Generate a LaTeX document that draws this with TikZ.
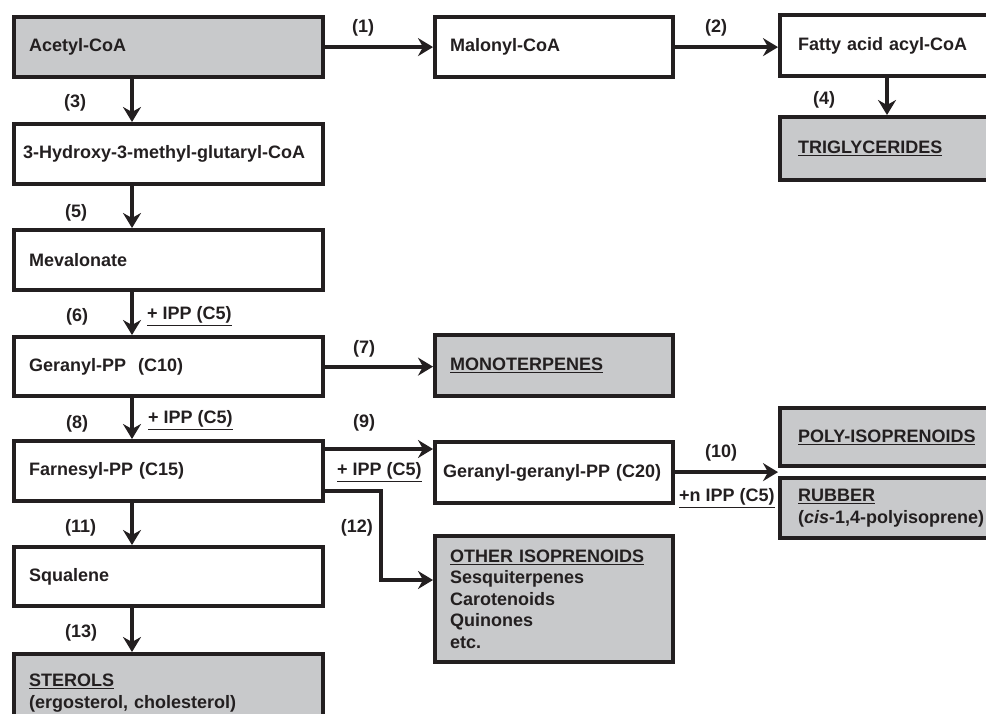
\documentclass[tikz,border=0pt]{standalone}
\usepackage{fontspec}
\setmainfont{Liberation Sans}
\usetikzlibrary{arrows.meta,calc}
\definecolor{ink}{HTML}{231F20}
\definecolor{shade}{HTML}{C8C9CB}

\begin{document}
\begin{tikzpicture}
  [x=1pt, y=-1pt,
  every node/.style={font=\fontsize{18}{21.5}\selectfont\bfseries, text=ink},
  box/.style={draw=ink, line width=4.2pt, anchor=north west, align=left,
    inner xsep=15pt, minimum height=60pt},
  wide/.style={box, text width=279pt},
  mid/.style={box, text width=208pt},
  side/.style={box, inner xsep=18pt, text width=204pt},
  prod/.style={fill=shade},
  flow/.style={draw=ink, line width=4pt,
    -{Stealth[length=15pt,width=18pt,inset=5pt]}},
  num/.style={anchor=west, inner sep=0pt}]
  \useasboundingbox (0,0) rectangle (986,713);

  \node[wide,prod] (acetyl) at (12,15) {Acetyl-CoA};
  \node[wide,inner xsep=9pt,text width=291pt] (hmg) at (12,122)
    {3-Hydroxy-3-methyl-glutaryl-CoA};
  \node[wide] (mev) at (12,228) {Mevalonate};
  \node[wide,minimum height=59pt] (ger) at (12,335) {Geranyl-PP~~(C10)};
  \node[wide] (farn) at (12,439) {Farnesyl-PP (C15)};
  \node[wide,minimum height=59pt] (squal) at (12,545) {Squalene};
  \node[wide,prod,minimum height=78pt] (sterol) at (12,652)
    {\underline{STEROLS}\\(ergosterol, cholesterol)};

  \node[mid] (malonyl) at (433,15) {Malonyl-CoA};
  \node[mid,prod,minimum height=61pt] (mono) at (433,333) {\underline{MONOTERPENES}};
  \node[mid,inner xsep=8pt,text width=222pt,minimum height=61pt] (gg) at (433,440)
    {Geranyl-geranyl-PP (C20)};
  \node[mid,prod,minimum height=126pt] (other) at (433,534)
    {\underline{OTHER ISOPRENOIDS}\\Sesquiterpenes\\Carotenoids\\Quinones\\etc.};

  \node[side,minimum height=61pt] (fatty) at (778,13) {Fatty acid acyl-CoA};
  \node[side,prod,minimum height=63pt] (tri) at (778,115) {\underline{TRIGLYCERIDES}};
  \node[side,prod,minimum height=58pt] (poly) at (778,406) {\underline{POLY-ISOPRENOIDS}};
  \node[side,prod] (rubber) at (778,476)
    {\underline{RUBBER}\\(\textit{cis}-1,4-polyisoprene)};

  \coordinate (spine) at (132,0);
  \coordinate (rspine) at (887,0);
  \coordinate (j9) at (0,449);
  \coordinate (bend) at (381,491);
  \coordinate (knee) at (381,580);
  \coordinate (t10) at ($(poly.south west)!0.5!(rubber.north west)$);

  \foreach \a/\b in {acetyl/hmg, hmg/mev, mev/ger, ger/farn, farn/squal, squal/sterol}
    \draw[flow] (\a.south -| spine) -- (\b.north -| spine);
  \draw[flow] (acetyl.east) -- (acetyl.east -| malonyl.west);
  \draw[flow] (malonyl.east) -- (malonyl.east -| fatty.west);
  \draw[flow] (fatty.south -| rspine) -- (tri.north -| rspine);
  \draw[flow] (ger.east) -- (ger.east -| mono.west);
  \draw[flow] (farn.east |- j9) -- (gg.west |- j9);
  \draw[flow] (farn.east |- bend) -- (bend) -- (knee) -- (other.west |- knee);
  \draw[flow] (gg.east |- t10) -- (t10);

  \node[num] (n1) at (352,28) {(1)};
  \node[num] (n2) at (705,28) {(2)};
  \node[num] (n3) at (64,103) {(3)};
  \node[num] (n4) at (813,100) {(4)};
  \node[num] (n5) at (65,213) {(5)};
  \node[num] (n6) at (66,317) {(6)};
  \node[num] (n7) at (353,349) {(7)};
  \node[num] (n8) at (66,424) {(8)};
  \node[num] (n9) at (353,423) {(9)};
  \node[num] (n10) at (705,453) {(10)};
  \node[num] (n11) at (65,528) {(11)};
  \node[num,anchor=east] (n12) at (373,528) {(12)};
  \node[num] (n13) at (65,633) {(13)};

  \node[num] (i6) at (147,316) {\underline{+ IPP (C5)}};
  \node[num] (i8) at (148,420) {\underline{+ IPP (C5)}};
  \node[num] (i9) at (337,472) {\underline{+ IPP (C5)}};
  \node[num] (i10) at (679,498) {\underline{+n IPP (C5)}};
\end{tikzpicture}
\end{document}
